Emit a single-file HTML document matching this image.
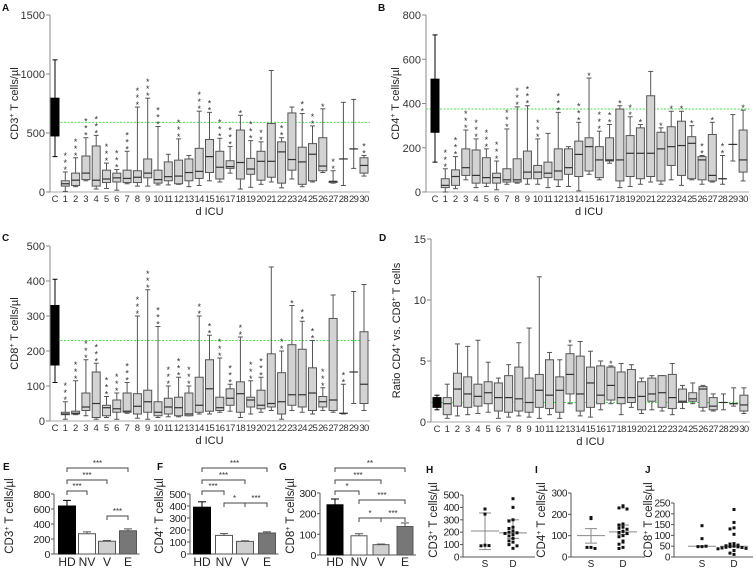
<!DOCTYPE html>
<html><head><meta charset="utf-8">
<style>
html,body{margin:0;padding:0;background:#fff;}
svg{display:block;font-family:"Liberation Sans",Arial,sans-serif;}
</style></head>
<body>
<svg id="fig" width="753" height="568" viewBox="0 0 753 568" xmlns="http://www.w3.org/2000/svg"></svg>
<script>
// ---------- Data ----------
const cats = ['C','1','2','3','4','5','6','7','8','9','10','11','12','13','14','15','16','17','18','19','20','21','22','23','24','25','26','27','28','29','30'];

const A_max  = [1120,170,290,460,480,245,190,345,720,795,555,320,450,310,685,675,455,385,650,435,425,1030,460,720,665,560,705,180,760,785,310];
const A_q3   = [795,95,160,305,390,185,160,185,180,280,185,255,270,280,370,445,345,265,525,285,345,580,425,670,380,410,460,90,280,365,290];
const A_med  = [640,70,100,160,100,110,120,115,125,160,105,130,135,165,175,300,210,215,250,195,260,260,340,275,255,320,220,90,280,365,225];
const A_q1   = [475,50,55,105,50,80,85,80,80,120,75,95,70,95,115,165,110,200,110,150,100,125,75,185,65,95,180,80,280,365,160];
const A_min  = [300,5,45,95,25,30,15,70,50,50,60,60,65,45,55,95,85,160,25,40,65,85,35,110,45,85,165,75,55,200,135];
const A_stars= [0,3,3,3,3,3,3,3,3,3,3,0,3,0,3,2,3,3,1,3,2,0,2,0,2,2,1,2,0,0,2];
const A_ref = 590;

const B_max  = [710,105,160,280,240,195,140,285,385,390,240,265,360,205,315,515,275,305,390,340,305,545,290,365,365,300,165,315,165,350,370];
const B_q3   = [510,60,100,195,190,155,85,105,150,185,120,135,195,195,230,245,205,245,375,255,290,435,270,295,320,250,160,260,60,215,280];
const B_med  = [390,30,70,110,75,65,65,55,55,90,90,85,95,110,170,205,145,145,145,175,175,175,195,205,210,220,145,75,60,215,145];
const B_q1   = [270,20,30,75,40,40,40,45,45,60,60,65,55,80,70,95,65,140,50,70,60,70,50,120,75,60,55,50,60,215,90];
const B_min  = [135,0,15,55,20,25,10,35,40,35,35,20,25,25,5,80,55,130,20,25,35,45,35,55,30,55,35,45,35,140,50];
const B_stars= [0,3,3,3,3,3,3,3,3,3,3,0,3,0,3,1,3,2,1,2,1,0,1,1,1,1,2,1,2,0,1];
const B_ref = 375;

const C_max  = [405,55,115,175,165,70,80,110,300,375,270,100,125,100,300,245,180,105,240,115,125,440,200,330,285,230,95,360,105,370,390];
const C_q3   = [330,25,28,80,140,45,60,80,78,88,55,65,68,80,125,175,68,92,112,68,88,192,138,218,205,152,70,293,22,140,255];
const C_med  = [245,20,22,40,50,38,35,28,42,55,25,40,38,20,45,92,38,65,78,60,45,50,55,75,75,80,55,60,22,140,105];
const C_q1   = [160,18,20,30,10,15,25,25,20,25,15,20,15,15,25,28,30,45,25,40,35,40,20,45,40,30,40,30,22,140,50];
const C_min  = [110,5,18,15,5,10,5,22,8,5,10,12,12,15,20,20,25,28,10,20,25,30,5,30,25,20,30,25,20,50,30];
const C_stars= [0,3,3,3,3,3,3,3,3,3,3,3,3,3,2,2,3,3,2,3,3,0,2,1,2,2,3,0,2,0,0];
const C_ref = 230;

const D_max  = [2.2,3.1,6.4,6.2,6.7,4.9,3.6,4.7,6.5,7.7,11.9,5.7,5.1,6.3,6.6,5.8,5.0,4.6,4.8,4.7,3.6,3.8,3.8,4.8,3.0,3.2,3.0,2.3,2.3,2.8,2.8];
const D_q3   = [2.0,2.0,4.0,3.7,3.1,3.3,3.2,3.8,4.5,3.6,3.9,5.1,3.7,5.6,5.4,4.5,4.6,4.5,4.1,4.3,3.3,3.6,3.8,3.9,2.7,2.4,2.9,2.0,1.6,1.5,2.2];
const D_med  = [1.6,1.5,2.7,2.3,2.1,2.4,2.0,2.0,1.9,1.6,2.6,2.2,2.6,3.9,2.3,3.2,2.2,3.0,2.0,2.0,2.1,2.3,2.4,2.0,1.7,1.9,2.7,1.3,1.6,1.5,1.4];
const D_q1   = [1.2,0.6,1.3,1.2,1.3,1.5,0.9,0.8,0.9,0.8,1.2,1.1,0.8,2.3,0.9,1.2,1.5,1.8,1.5,1.6,1.0,1.7,1.2,1.1,1.6,1.7,1.2,1.0,1.6,1.5,0.9];
const D_min  = [1.0,0.3,0.5,0.6,0.7,0.8,0.3,0.4,0.5,0.4,0.3,0.6,0.3,1.5,0.5,0.4,1.0,1.5,0.6,1.2,0.7,1.0,0.9,0.6,1.1,1.5,0.9,0.9,1.0,1.3,0.7];
const D_stars= [0,0,0,0,0,0,0,0,0,0,0,0,0,1,0,0,0,1,0,0,0,0,0,0,0,0,0,0,0,0,0];
const D_ref = 1.6;

const barGroups = ['HD','NV','V','E'];
const E_mean = [640,270,170,310];
const E_err  = [75,25,10,25];
const F_mean = [390,155,105,175];
const F_err  = [45,15,5,10];
const G_mean = [243,93,50,138];
const G_err  = [28,10,3,17];
// brackets: [fromIndex, toIndex, label]
const E_brk = [[0,3,'***'],[0,2,'***'],[0,1,'***'],[2,3,'***']];
const F_brk = [[0,3,'***'],[0,2,'***'],[0,1,'***'],[1,2,'*'],[2,3,'***']];
const G_brk = [[0,3,'**'],[0,2,'***'],[0,1,'*'],[1,3,'***'],[1,2,'*'],[2,3,'***']];

const scGroups = ['S','D'];
const H_S = [387,346,95,90,92];
const H_D = [470,400,300,290,240,230,210,200,195,190,180,170,150,130,120,100,90,70];
const H_mid = [210,195]; const H_lo = [60,150]; const H_hi = [355,300];
const I_S = [185,180,45,45,40];
const I_D = [240,235,230,225,155,150,140,135,130,120,115,110,100,95,75,70,60,45,40];
const I_mid = [100,118]; const I_lo = [65,105]; const I_hi = [133,150];
const J_S = [145,85,48,48,50];
const J_D = [220,160,135,130,105,62,60,55,52,50,48,47,45,44,42,40,38,30,18,12];
const J_mid = [50,50]; const J_lo = [50,50]; const J_hi = [50,50];

// ---------- helpers ----------
const NS='http://www.w3.org/2000/svg';
const svg=document.getElementById('fig');
function el(tag,attrs,parent){const e=document.createElementNS(NS,tag);for(const k in attrs)e.setAttribute(k,attrs[k]);(parent||svg).appendChild(e);return e;}
function txt(s,attrs,parent){const e=el('text',attrs,parent);e.textContent=s;return e;}
function ytitle(g,x,y,parts,size){
  const t=el('text',{x:0,y:0,'font-size':size||11,'text-anchor':'middle',fill:'#222',transform:`translate(${x},${y}) rotate(-90)`},g);
  let up=false;
  parts.forEach(([s,sup])=>{
    const a=document.createElementNS(NS,'tspan');
    if(sup&&!up){a.setAttribute('dy','-4');a.setAttribute('font-size','7');up=true;}
    else if(!sup&&up){a.setAttribute('dy','4');up=false;}
    else if(sup){a.setAttribute('font-size','7');}
    a.textContent=s;t.appendChild(a);
  });
  
  
  return t;
}
function cellTitle(m){return [[m,false],['+',true],[' T cells/µl',false]];}

function boxPanel(p){
  const g=el('g',{});
  
  
  const ys=v=>p.y0-(v/p.vmax)*(p.y0-p.yTop);
  const xs=i=>p.xC+i*p.dx;
  const lab=txt(p.letter,{x:p.lx,y:p.ly,'font-size':10,'font-weight':'bold',fill:'#111'},g);
  
  
  const ya=el('line',{x1:p.ax,y1:p.yTop,x2:p.ax,y2:p.y0,stroke:'#888','stroke-width':1},g);
  
  
  const xa=el('line',{x1:p.ax,y1:p.y0,x2:xs(30)+6,y2:p.y0,stroke:'#aaa','stroke-width':1},g);
  
  
  p.ticks.forEach(t=>{
    el('line',{x1:p.ax-4,y1:ys(t),x2:p.ax,y2:ys(t),stroke:'#888'},g);
    const tl=txt(String(t),{x:p.ax-5,y:ys(t)+4,'font-size':11,'text-anchor':'end',fill:'#333'},g);
    
    
  });
  const rl=el('line',{x1:p.ax,y1:ys(p.ref),x2:xs(30)+6,y2:ys(p.ref),stroke:'#4de04d','stroke-width':1,'stroke-dasharray':'2,1.5'},g);
  
  
  const bw=8;
  cats.forEach((c,i)=>{
    const x=xs(i);
    const bg=el('g',{},g);
    
    
    const isC=i===0;
    const col=isC?'#000':'#555';
    el('line',{x1:x,y1:ys(p.max[i]),x2:x,y2:ys(p.min[i]),stroke:col,'stroke-width':1},bg);
    el('line',{x1:x-2.5,y1:ys(p.max[i]),x2:x+2.5,y2:ys(p.max[i]),stroke:col},bg);
    el('line',{x1:x-2.5,y1:ys(p.min[i]),x2:x+2.5,y2:ys(p.min[i]),stroke:col},bg);
    const h=Math.max(ys(p.q1[i])-ys(p.q3[i]),0.01);
    el('rect',{x:x-bw/2,y:ys(p.q3[i]),width:bw,height:h,fill:isC?'#000':'#d3d3d3',stroke:col,'stroke-width':1},bg);
    el('line',{x1:x-bw/2,y1:ys(p.med[i]),x2:x+bw/2,y2:ys(p.med[i]),stroke:isC?'#000':'#333','stroke-width':1.2},bg);
    for(let s=0;s<p.stars[i];s++){
      const st=txt('*',{x:x,y:ys(p.max[i])-2-s*7+3,'font-size':9,'text-anchor':'middle',fill:'#333'},bg);
      
      
    }
    const cl=txt(c,{x:x,y:p.y0+10,'font-size':9.5,'text-anchor':'middle',fill:'#333','letter-spacing':c.length>1?'-0.6':'0'},g);
    
    
  });
  const xt=txt('d ICU',{x:(xs(0)+xs(30))/2,y:p.y0+23,'font-size':11,'text-anchor':'middle',fill:'#222'},g);
  
  
  ytitle(g,p.tx,(p.y0+p.yTop)/2,p.title,11);
}

boxPanel({name:'panel-a-cd3-boxplot',letter:'A',lx:2,ly:11,ax:50,y0:192,yTop:15,vmax:1500,ticks:[0,500,1000,1500],xC:55,dx:10.3,
  max:A_max,q3:A_q3,med:A_med,q1:A_q1,min:A_min,stars:A_stars,ref:A_ref,tx:18,title:cellTitle('CD3')});
boxPanel({name:'panel-b-cd4-boxplot',letter:'B',lx:378,ly:11,ax:426,y0:192,yTop:15,vmax:800,ticks:[0,200,400,600,800],xC:435,dx:10.27,
  max:B_max,q3:B_q3,med:B_med,q1:B_q1,min:B_min,stars:B_stars,ref:B_ref,tx:399,title:cellTitle('CD4')});
boxPanel({name:'panel-c-cd8-boxplot',letter:'C',lx:2,ly:241,ax:50,y0:421,yTop:246,vmax:500,ticks:[0,100,200,300,400,500],xC:55,dx:10.3,
  max:C_max,q3:C_q3,med:C_med,q1:C_q1,min:C_min,stars:C_stars,ref:C_ref,tx:18,title:cellTitle('CD8')});
boxPanel({name:'panel-d-ratio-boxplot',letter:'D',lx:379,ly:241,ax:431,y0:422,yTop:239,vmax:15,ticks:[0,5,10,15],xC:437,dx:10.23,
  max:D_max,q3:D_q3,med:D_med,q1:D_q1,min:D_min,stars:D_stars,ref:D_ref,tx:400,
  title:[['Ratio CD4',false],['+',true],[' vs. CD8',false],['+',true],[' T cells',false]]});

function barPanel(p){
  const g=el('g',{});
  
  
  const ys=v=>p.y0-(v/p.vmax)*(p.y0-p.yTop);
  const lab=txt(p.letter,{x:p.lx,y:470,'font-size':10,'font-weight':'bold',fill:'#111'},g);
  
  
  el('line',{x1:p.ax,y1:p.yTop,x2:p.ax,y2:p.y0,stroke:'#555'},g);
  el('line',{x1:p.ax,y1:p.y0,x2:p.xs[3]+p.bw/2+3,y2:p.y0,stroke:'#555'},g);
  p.ticks.forEach(t=>{
    el('line',{x1:p.ax-3,y1:ys(t),x2:p.ax,y2:ys(t),stroke:'#555'},g);
    const tl=txt(String(t),{x:p.ax-4,y:ys(t)+4,'font-size':10.5,'text-anchor':'end',fill:'#222','letter-spacing':'-0.3'},g);
    
    
  });
  const fills=['#000','#fff','#d0d0d0','#777'];
  barGroups.forEach((b,i)=>{
    const x=p.xs[i];
    const r=el('rect',{x:x-p.bw/2,y:ys(p.mean[i]),width:p.bw,height:p.y0-ys(p.mean[i]),fill:fills[i],stroke:i===0?'#000':'#555','stroke-width':1},g);
    
    
    const top=ys(p.mean[i]+p.err[i]);
    el('line',{x1:x,y1:ys(p.mean[i]),x2:x,y2:top,stroke:i===0?'#000':'#555'},g);
    el('line',{x1:x-4,y1:top,x2:x+4,y2:top,stroke:i===0?'#000':'#555'},g);
    const xl=txt(b,{x:x,y:566,'font-size':12,'text-anchor':'middle',fill:'#222'},g);
    
    
  });
  p.brk.forEach((bk,k)=>{
    const y=p.brkY[k];
    const x1=p.xs[bk[0]],x2=p.xs[bk[1]];
    const bl=el('path',{d:`M${x1},${y+4}V${y}H${x2}V${y+4}`,fill:'none',stroke:'#444','stroke-width':1},g);
    
    
    const st=txt(bk[2],{x:(x1+x2)/2,y:y-2,'font-size':8,'text-anchor':'middle',fill:'#333'},g);
    
    
  });
  ytitle(g,p.tx,516,cellTitle(p.t1),11.5);
}
barPanel({name:'panel-e-cd3-bars',letter:'E',lx:3,ax:54,y0:554,yTop:494,vmax:800,ticks:[0,200,400,600,800],xs:[67,87,107,128],bw:17,
  mean:E_mean,err:E_err,brk:E_brk,brkY:[468,480,491,516],tx:13,t1:'CD3'});
barPanel({name:'panel-f-cd4-bars',letter:'F',lx:157,ax:190,y0:554,yTop:494,vmax:500,ticks:[0,100,200,300,400,500],xs:[202,224,245,267],bw:17,
  mean:F_mean,err:F_err,brk:F_brk,brkY:[468,480,491,503,503],tx:163,t1:'CD4'});
barPanel({name:'panel-g-cd8-bars',letter:'G',lx:279,ax:320,y0:555,yTop:493,vmax:300,ticks:[0,100,200,300],xs:[335,359,381,405],bw:16,
  mean:G_mean,err:G_err,brk:G_brk,brkY:[468,480,491,500,518,518],tx:294,t1:'CD8'});

function scatterPanel(p){
  const g=el('g',{});
  
  
  const ys=v=>p.y0-(v/p.vmax)*(p.y0-p.yTop);
  const lab=txt(p.letter,{x:p.lx,y:473,'font-size':10,'font-weight':'bold',fill:'#111'},g);
  
  
  el('line',{x1:p.ax,y1:p.yTop,x2:p.ax,y2:p.y0,stroke:'#555'},g);
  el('line',{x1:p.ax,y1:p.y0,x2:p.xs[1]+22,y2:p.y0,stroke:'#555'},g);
  p.ticks.forEach(t=>{
    el('line',{x1:p.ax-3,y1:ys(t),x2:p.ax,y2:ys(t),stroke:'#555'},g);
    const tl=txt(String(t),{x:p.ax-4,y:ys(t)+3.5,'font-size':10,'text-anchor':'end',fill:'#222','letter-spacing':'-0.4'},g);
    
    
  });
  [p.S,p.D].forEach((arr,gi)=>{
    const cx=p.xs[gi];
    el('line',{x1:cx-14,y1:ys(p.mid[gi]),x2:cx+14,y2:ys(p.mid[gi]),stroke:'#888','stroke-width':1},g);
    el('line',{x1:cx,y1:ys(p.lo[gi]),x2:cx,y2:ys(p.hi[gi]),stroke:'#888'},g);
    el('line',{x1:cx-6,y1:ys(p.lo[gi]),x2:cx+6,y2:ys(p.lo[gi]),stroke:'#888'},g);
    el('line',{x1:cx-6,y1:ys(p.hi[gi]),x2:cx+6,y2:ys(p.hi[gi]),stroke:'#888'},g);
    const counts={};
    arr.forEach(v=>{
      const key=Math.round(ys(v)/4);
      counts[key]=(counts[key]||0)+1;
      const n=counts[key]-1;
      const off=(n%2===0?1:-1)*Math.ceil(n/2)*4;
      const pt=el('rect',{x:cx+off-1.5,y:ys(v)-1.5,width:3,height:3,fill:'#111'},g);
      
      
    });
    const xl=txt(scGroups[gi],{x:cx,y:567,'font-size':10,'text-anchor':'middle',fill:'#222'},g);
    
    
  });
  ytitle(g,p.tx,520,cellTitle(p.t1),11.5);
}
scatterPanel({name:'panel-h-cd3-scatter',letter:'H',lx:426,ax:463,y0:557,yTop:495,vmax:500,ticks:[0,100,200,300,400,500],xs:[485,513],
  S:H_S,D:H_D,mid:H_mid,lo:H_lo,hi:H_hi,tx:437,t1:'CD3'});
scatterPanel({name:'panel-i-cd4-scatter',letter:'I',lx:535,ax:571,y0:557,yTop:493,vmax:300,ticks:[0,100,200,300],xs:[591,623],
  S:I_S,D:I_D,mid:I_mid,lo:I_lo,hi:I_hi,tx:545,t1:'CD4'});
scatterPanel({name:'panel-j-cd8-scatter',letter:'J',lx:645,ax:674,y0:557,yTop:503,vmax:250,ticks:[0,50,100,150,200,250],xs:[702,734],
  S:J_S,D:J_D,mid:J_mid,lo:J_lo,hi:J_hi,tx:652,t1:'CD8'});
</script>
</body></html>
